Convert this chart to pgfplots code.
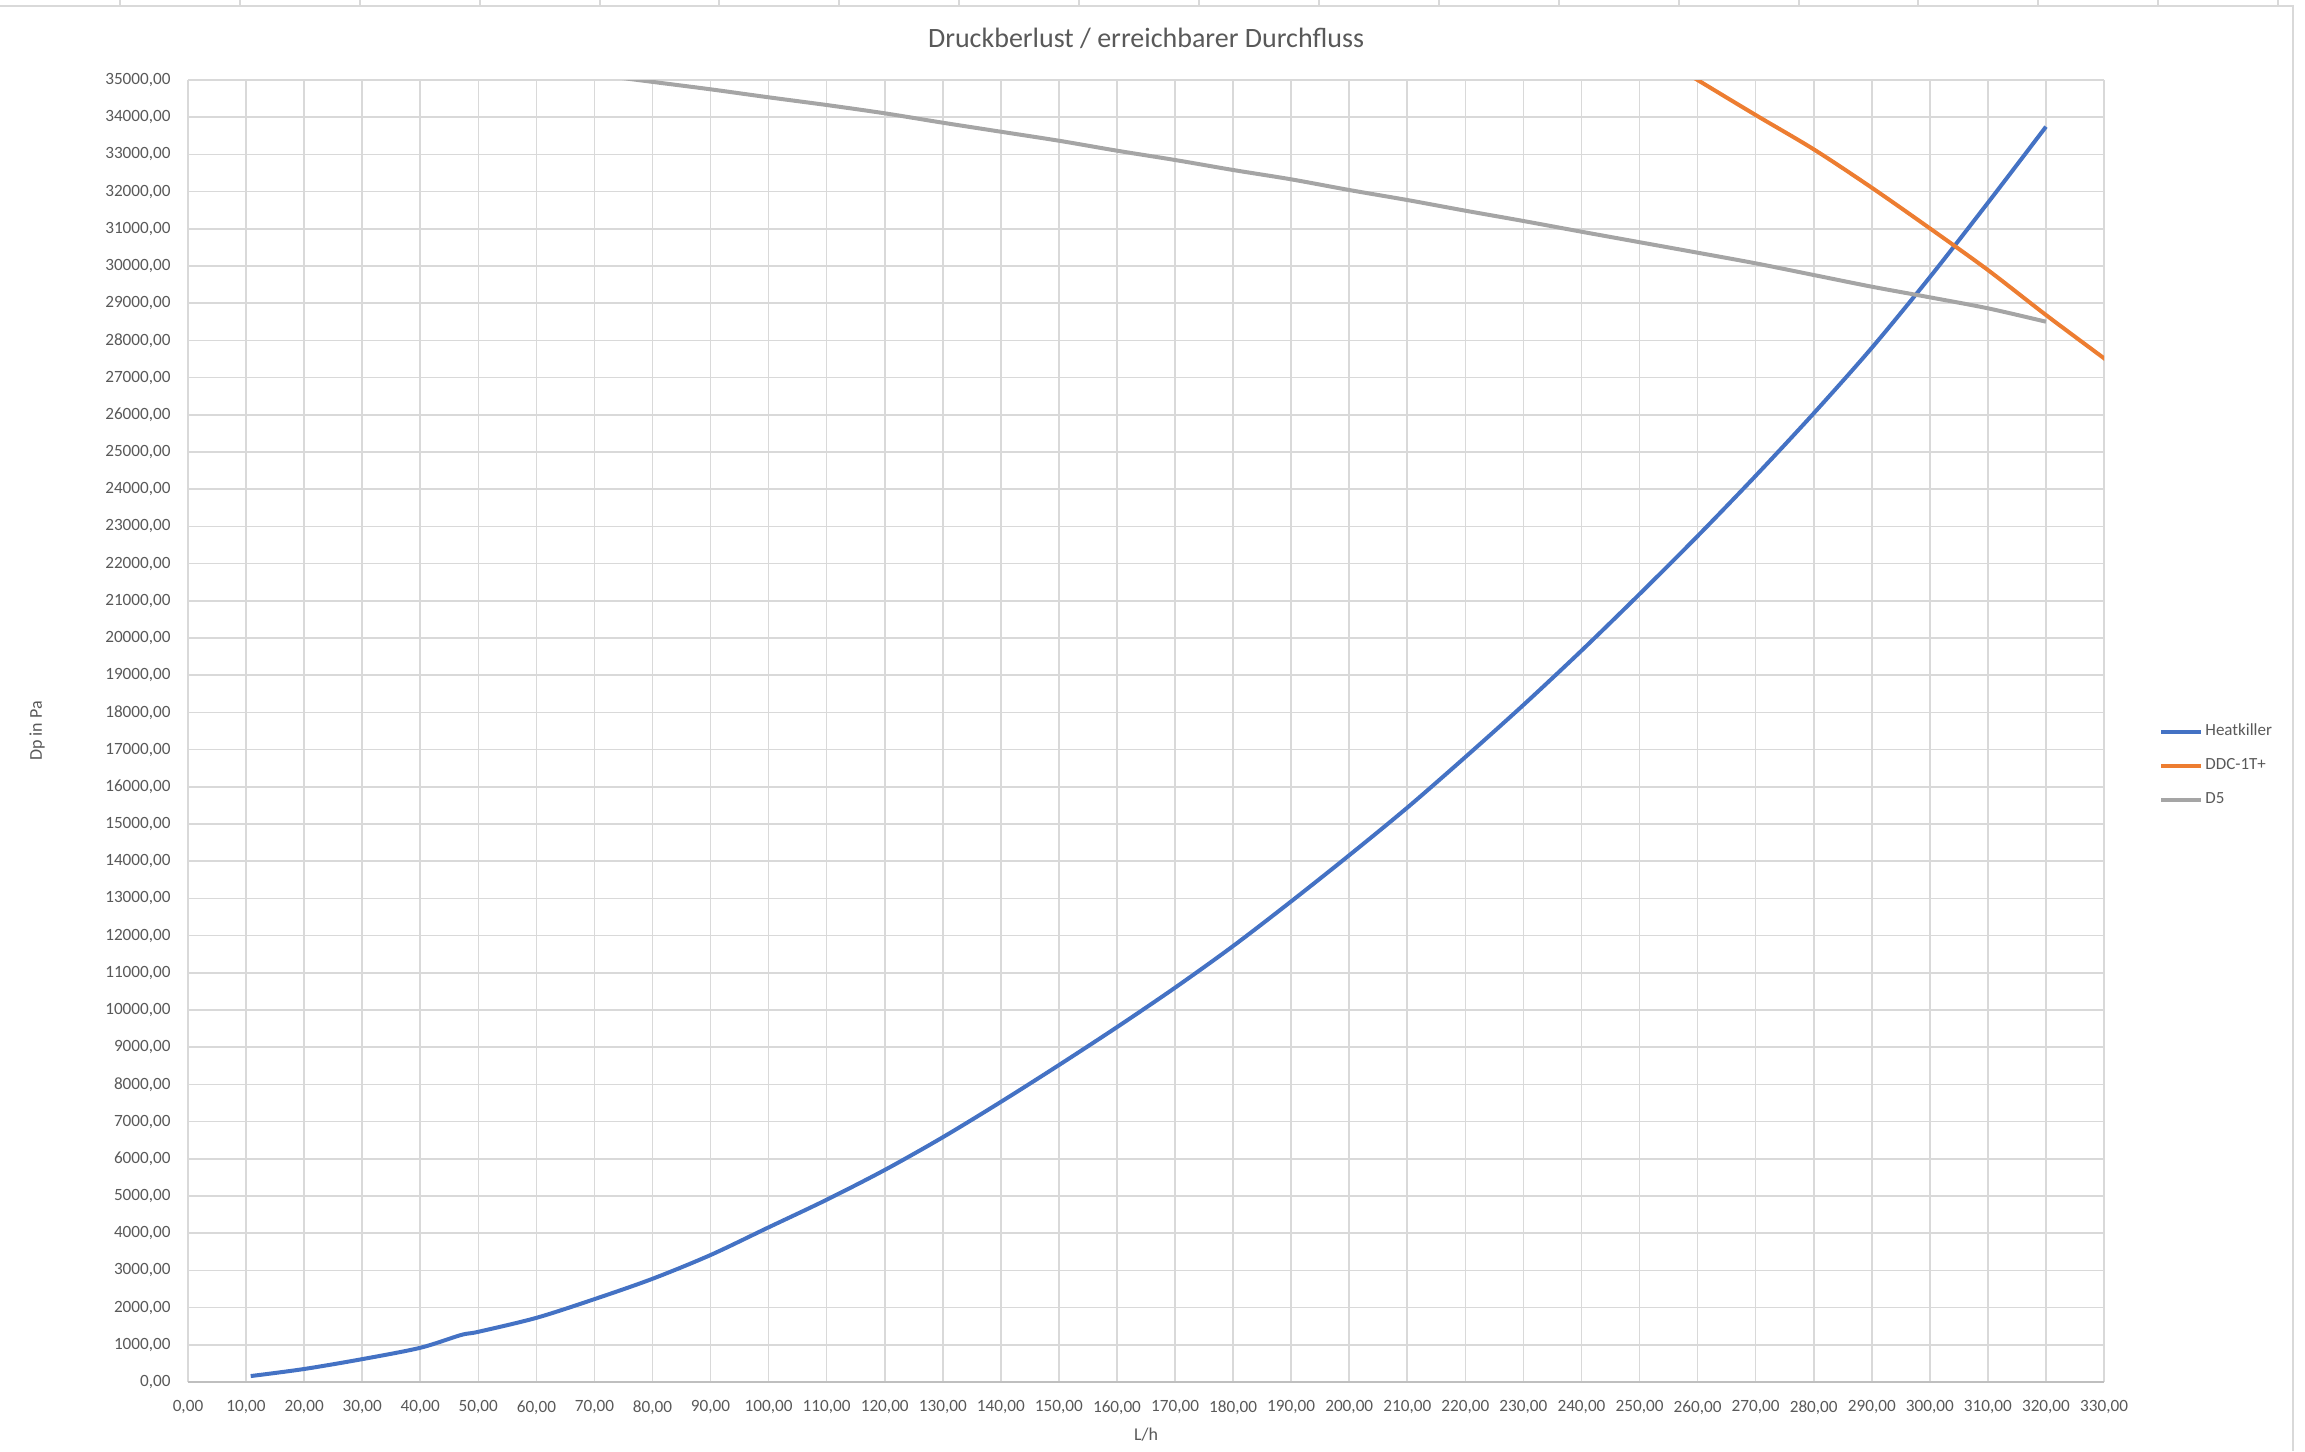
\documentclass[border=0pt]{standalone}
\usepackage{fontspec}
\setmainfont{Carlito}
\usepackage{pgfplots}
\pgfplotsset{compat=1.18}
\definecolor{hk}{HTML}{4472C4}
\definecolor{ddc}{HTML}{ED7D31}
\definecolor{dfive}{HTML}{A5A5A5}
\definecolor{txt}{HTML}{595959}
\definecolor{gridc}{HTML}{D9D9D9}
\definecolor{axc}{HTML}{BFBFBF}
\begin{document}
\begin{tikzpicture}
\begin{axis}[
  at={(94pt,-691pt)}, anchor=south west,
  scale only axis, width=958pt, height=651pt,
  xmin=0, xmax=330, ymin=0, ymax=35000,
  xtick={0,10,...,330}, ytick={0,1000,...,35000},
  grid=major, major grid style={gridc, line width=0.8pt},
  axis line style={draw=none},
  major tick length=0pt,
  scaled ticks=false,
  tick label style={font=\fontsize{8.6}{10}\selectfont, text=txt},
  /pgf/number format/fixed,
  /pgf/number format/fixed zerofill,
  /pgf/number format/precision=2,
  /pgf/number format/use comma,
  /pgf/number format/1000 sep={},
  /pgf/number format/assume math mode=true,
  yticklabel style={anchor=east, inner sep=0pt, xshift=-8.5pt},
  xticklabel style={anchor=north, inner sep=0pt, yshift=-9pt},
  extra y ticks={0}, extra y tick labels={},
  extra y tick style={grid=major, major grid style={axc, line width=1pt}},
  title={Druckberlust / erreichbarer Durchfluss},
  title style={at={(axis description cs:0.5,1.032)}, anchor=center, yshift=-6pt, font=\fontsize{14}{17}\selectfont, text=txt},
  xlabel={L/h},
  xlabel style={at={(axis description cs:0.5,-0.0407)}, anchor=center, font=\fontsize{9}{11}\selectfont, text=txt},
  ylabel={Dp in Pa},
  ylabel style={at={(axis description cs:-0.0788,0.5)}, anchor=center, font=\fontsize{9}{11}\selectfont, text=txt},
  legend style={at={(axis description cs:1.0287,0.4735)}, anchor=west, draw=none, fill=none,
    font=\fontsize{8.5}{10}\selectfont, text=txt, row sep=8pt, inner sep=0pt, nodes={inner sep=1pt}},
  legend cell align=left,
  legend image code/.code={\draw[#1, line width=2pt] (0pt,0pt) -- (20pt,0pt);},
]
\addplot[hk, line width=2pt, smooth] coordinates {
(10.8,160) (20,350) (30,615) (40,920) (47,1263) (50,1350) (60,1725) (70,2228)
(80,2775) (90,3414) (100,4158) (110,4900) (120,5700) (130,6580) (140,7530)
(150,8520) (160,9540) (170,10600) (180,11720) (190,12920) (200,14160)
(210,15440) (220,16800) (230,18200) (240,19660) (250,21180) (260,22740)
(270,24360) (280,26040) (290,27800) (300,29700) (310,31700) (320,33745)};
\addlegendentry{Heatkiller}
\addplot[ddc, line width=2pt, smooth] coordinates {
(250,35950) (260,35000) (270,34059) (280,33137) (290,32105) (300,31013)
(310,29892) (320,28683) (330,27519) (340,26350)};
\addlegendentry{DDC-1T+}
\addplot[dfive, line width=2pt, smooth] coordinates {
(70,35150) (80,34950) (90,34750) (100,34535) (110,34328) (120,34105) (130,33852)
(140,33610) (150,33368) (160,33100) (170,32850) (180,32581) (190,32330)
(200,32043) (210,31774) (220,31487) (230,31210) (240,30922) (250,30640)
(260,30358) (270,30072) (280,29758) (290,29444) (300,29158) (310,28863)
(320,28503)};
\addlegendentry{D5}
\end{axis}
\draw[gridc, line width=1pt] (0,-2.85pt) -- (1146.5pt,-2.85pt) -- (1146.5pt,-725.5pt);
\foreach \i in {1,...,19} \draw[gridc, line width=1pt] (\i*59.95pt,0) -- (\i*59.95pt,-2.85pt);
\pgfresetboundingbox
\path[use as bounding box] (0,0) rectangle (1152.5pt,-725.5pt);
\end{tikzpicture}
\end{document}
